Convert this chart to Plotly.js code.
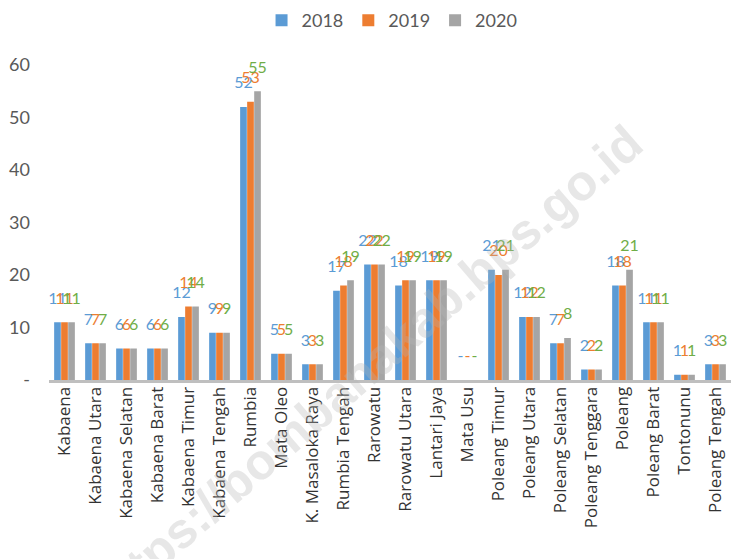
<!DOCTYPE html>
<html>
<head>
<meta charset="utf-8">
<script src="https://cdn.plot.ly/plotly-3.0.1.min.js"></script>
<style>html,body{margin:0;padding:0;background:#fff;}#chart{width:731px;height:559px;}</style>
</head>
<body>
<div id="chart"></div>
<script>
const categories = ["Kabaena","Kabaena Utara","Kabaena Selatan","Kabaena Barat","Kabaena Timur","Kabaena Tengah","Rumbia","Mata Oleo","K. Masaloka Raya","Rumbia Tengah","Rarowatu","Rarowatu Utara","Lantari Jaya","Mata Usu","Poleang Timur","Poleang Utara","Poleang Selatan","Poleang Tenggara","Poleang","Poleang Barat","Tontonunu","Poleang Tengah"];
const v2018 = [11,7,6,6,12,9,52,5,3,17,22,18,19,0,21,12,7,2,18,11,1,3];
const v2019 = [11,7,6,6,14,9,53,5,3,18,22,19,19,0,20,12,7,2,18,11,1,3];
const v2020 = [11,7,6,6,14,9,55,5,3,19,22,19,19,0,21,12,8,2,21,11,1,3];
const seriesNames = ["2018","2019","2020"];
const yTickVals = [0,10,20,30,40,50,60];
const yTickText = ["-","10","20","30","40","50","60"];

const barColors = ["#5b9bd5","#ed7d31","#a5a5a5"];
const labelColors = ["#5b9bd5","#ed7d31","#70ad47"];
const FONT = "Lato, 'Open Sans', sans-serif";
const allSeries = [v2018, v2019, v2020];

const barTraces = allSeries.map((vals, i) => ({
  type: "bar",
  name: seriesNames[i],
  x: categories,
  y: vals,
  offsetgroup: seriesNames[i],
  marker: {color: barColors[i], line: {width: 0}},
  hoverinfo: "x+y+name"
}));

const labelTraces = allSeries.map((vals, i) => ({
  type: "scatter",
  mode: "markers+text",
  name: seriesNames[i] + " label",
  showlegend: false,
  x: categories,
  y: vals,
  offsetgroup: seriesNames[i],
  text: vals.map(v => v === 0 ? "-" : String(v)),
  textposition: "top center",
  textfont: {family: FONT, size: 16, color: labelColors[i]},
  marker: {size: 22, color: "rgba(0,0,0,0)"},
  cliponaxis: false,
  hoverinfo: "skip"
}));

const layout = {
  width: 731, height: 559,
  margin: {l: 49, r: 0, t: 65, b: 179},
  paper_bgcolor: "#ffffff", plot_bgcolor: "#ffffff",
  barmode: "group",
  scattermode: "group",
  bargap: 0.32,
  scattergap: 0.32,
  bargroupgap: 0.05,
  font: {family: FONT, color: "#595959"},
  showlegend: true,
  legend: {
    orientation: "h", x: 0.503, xanchor: "center", y: 1.2, yanchor: "top",
    font: {family: FONT, size: 18, color: "#595959"},
    itemwidth: 30, traceorder: "normal"
  },
  xaxis: {
    type: "category",
    tickangle: -90,
    tickfont: {family: "'Open Sans', sans-serif", size: 17, color: "#333333"},
    showline: true, linecolor: "#bfbfbf", linewidth: 3,
    ticks: "", showgrid: false, zeroline: false,
    ticklabelstandoff: -3,
    automargin: false
  },
  yaxis: {
    range: [0, 60],
    tickvals: yTickVals, ticktext: yTickText,
    tickfont: {family: FONT, size: 18, color: "#595959"},
    showgrid: false, zeroline: false, showline: false,
    ticks: "", ticklabelstandoff: 18,
    automargin: false
  },
  annotations: [{
    text: "https://bombanakab.bps.go.id",
    xref: "paper", yref: "paper",
    x: 0.465, y: 0.035, xanchor: "center", yanchor: "middle",
    textangle: -41, showarrow: false,
    font: {family: "'Liberation Sans', Arial, sans-serif", size: 50, color: "rgba(180,180,180,0.32)", weight: "bold"}
  }]
};

Plotly.newPlot("chart", barTraces.concat(labelTraces), layout, {staticPlot: true, displayModeBar: false});
</script>
</body>
</html>
